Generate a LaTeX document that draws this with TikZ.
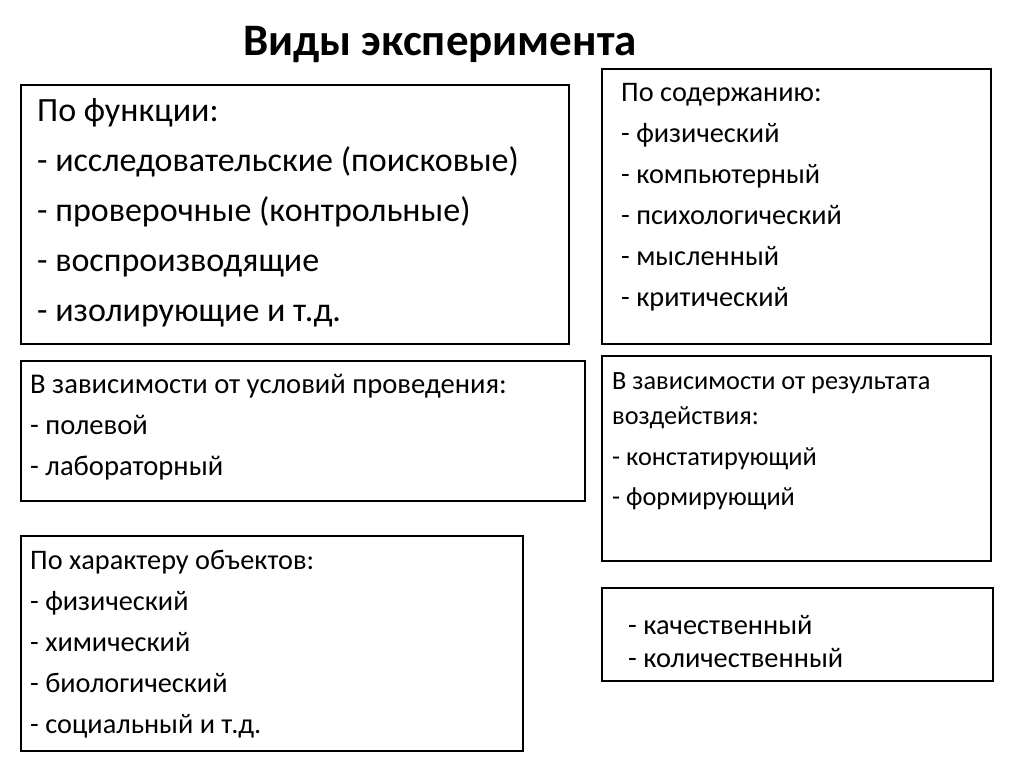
\documentclass[tikz,border=0pt]{standalone}
\usepackage{fontspec}
\setmainfont{Carlito}
\begin{document}
\begin{tikzpicture}[x=1pt,y=-1pt,
  box/.style={draw=black,line width=2.4pt,rectangle,inner sep=0pt,anchor=north west},
  txt/.style={anchor=base west,inner sep=0pt,align=left,text=black},
  big/.style={txt,font=\fontsize{34}{50}\selectfont},
  mid/.style={txt,font=\fontsize{28.3}{41}\selectfont}]
\useasboundingbox[fill=white] (0,0) rectangle (1024,767);
\node[anchor=center,font=\fontsize{45}{50}\selectfont\bfseries] (title) at (440,45) {Виды эксперимента};
% boxes
\node[box,minimum width=548pt,minimum height=259pt] (b1) at (20,84) {};
\node[box,minimum width=389pt,minimum height=275pt] (b2) at (601,68) {};
\node[box,minimum width=564pt,minimum height=140pt] (b3) at (20,360) {};
\node[box,minimum width=389pt,minimum height=205pt] (b4) at (601,355) {};
\node[box,minimum width=502pt,minimum height=215pt] (b5) at (20,535) {};
\node[box,minimum width=391pt,minimum height=93pt] (b6) at (601,587) {};
% texts (base anchor = baseline of last line)
\node[big] (t1) at (37,321) {По функции:\\- исследовательские (поисковые)\\- проверочные (контрольные)\\- воспроизводящие\\- изолирующие и т.д.};
\node[mid] (t2) at (621,306) {По содержанию:\\- физический\\- компьютерный\\- психологический\\- мысленный\\- критический};
\node[mid,font=\fontsize{28.6}{41}\selectfont] (t3) at (30,475) {В зависимости от условий проведения:\\- полевой\\- лабораторный};
\node[mid,font=\fontsize{26.3}{35}\selectfont] (t4) at (612,505) {В зависимости от результата\\воздействия:\\[6pt]- констатирующий\\[5pt]- формирующий};
\node[mid] (t5) at (30,733) {По характеру объектов:\\- физический\\- химический\\- биологический\\- социальный и т.д.};
\node[mid,font=\fontsize{28.4}{33}\selectfont] (t6) at (628,667) {- качественный\\- количественный};
\end{tikzpicture}
\end{document}
